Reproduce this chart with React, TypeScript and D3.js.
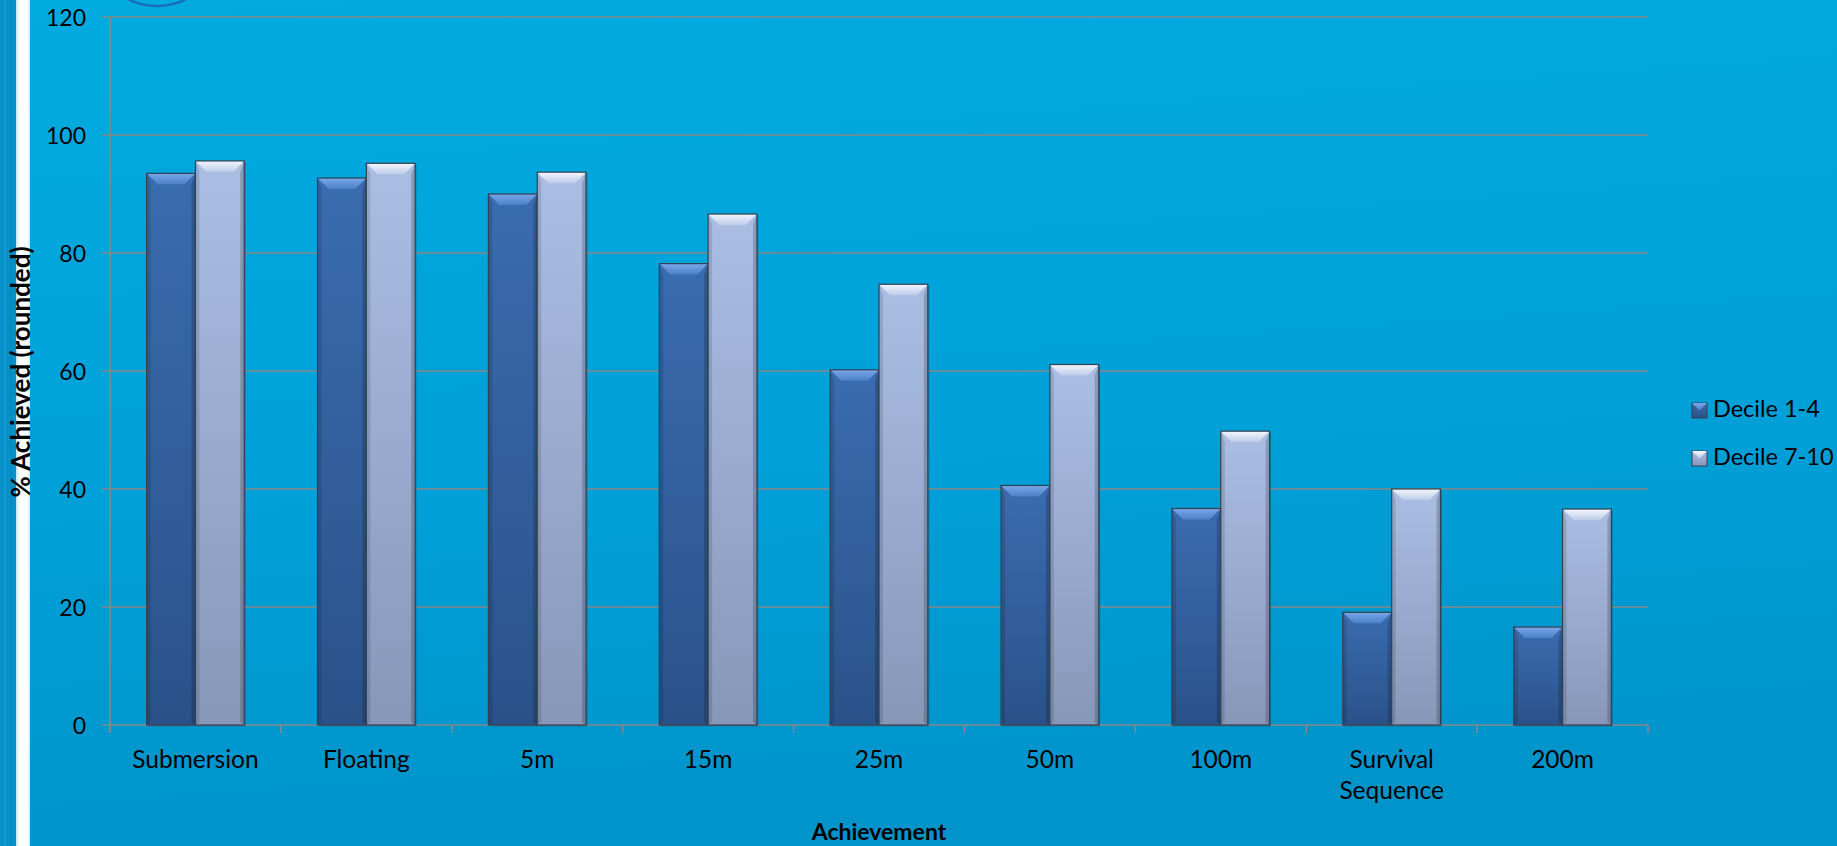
import React from "react";
import * as d3 from "d3";

const categories = ["Submersion", "Floating", "5m", "15m", "25m", "50m", "100m", "Survival Sequence", "200m"];
const seriesNames = ["Decile 1-4", "Decile 7-10"];
const decile14 = [93.5, 92.7, 90.0, 78.2, 60.2, 40.6, 36.7, 19.1, 16.6];
const decile710 = [95.6, 95.2, 93.7, 86.6, 74.7, 61.1, 49.8, 40.0, 36.6];
const yTicks = [0, 20, 40, 60, 80, 100, 120];
const yTitle = "% Achieved (rounded)";
const xTitle = "Achievement";

const W = 1837;
const H = 846;
const FONT = "Lato, 'Open Sans', sans-serif";

export default function App() {
  const x0 = 110, x1 = 1648, yTop = 17, yBase = 725;
  const x = d3.scaleBand<string>().domain(categories).range([x0, x1]).paddingInner(0).paddingOuter(0);
  const xs = d3.scaleBand<string>().domain(seriesNames).range([0, x.bandwidth()]).paddingInner(0).paddingOuter(0.75);
  const y = d3.scaleLinear().domain([0, 120]).range([yBase, yTop]);
  const seriesData = [decile14, decile710];
  const bodyGrad = ["gDark", "gLight"];
  const topGrad = ["gDarkTop", "gLightTop"];
  const bev = 11;

  const bars: React.ReactNode[] = [];
  categories.forEach((c, i) => {
    seriesNames.forEach((s, si) => {
      const v = seriesData[si][i];
      const bx = (x(c) as number) + (xs(s) as number);
      const bw = xs.bandwidth();
      const by = y(v);
      const bh = yBase - by;
      const b = Math.min(bev, bh / 2);
      bars.push(
        <g key={c + s}>
          <rect x={bx + 1.5} y={by + 1.5} width={bw} height={bh} fill="#000" opacity={0.18} />
          <rect x={bx} y={by} width={bw} height={bh} fill={`url(#${bodyGrad[si]})`} />
          <polygon
            points={`${bx},${by} ${bx + 4},${by + b} ${bx + 4},${yBase - 3} ${bx},${yBase}`}
            fill="#000" opacity={0.12}
          />
          <polygon
            points={`${bx + bw},${by} ${bx + bw - 4},${by + b} ${bx + bw - 4},${yBase - 3} ${bx + bw},${yBase}`}
            fill="#000" opacity={0.18}
          />
          <polygon
            points={`${bx},${by} ${bx + bw},${by} ${bx + bw - b},${by + b} ${bx + b},${by + b}`}
            fill={`url(#${topGrad[si]})`}
          />
          <rect x={bx} y={by} width={bw} height={bh} fill="none" stroke="#34404f" strokeWidth={1.2} />
        </g>
      );
    });
  });

  return (
    <svg width={W} height={H} style={{ position: "absolute", left: 0, top: 0, display: "block" }} fontFamily={FONT}>
      <defs>
        <linearGradient id="bg" x1="0" y1="0" x2="0.15" y2="1">
          <stop offset="0" stopColor="#00abe0" />
          <stop offset="0.6" stopColor="#00a0d8" />
          <stop offset="1" stopColor="#0094cb" />
        </linearGradient>
        <linearGradient id="gDark" x1="0" y1="0" x2="0" y2="1">
          <stop offset="0" stopColor="#3a6cb0" />
          <stop offset="1" stopColor="#2a5289" />
        </linearGradient>
        <linearGradient id="gLight" x1="0" y1="0" x2="0" y2="1">
          <stop offset="0" stopColor="#aabee4" />
          <stop offset="1" stopColor="#8797b8" />
        </linearGradient>
        <linearGradient id="gDarkTop" x1="0" y1="0" x2="0" y2="1">
          <stop offset="0" stopColor="#7aa8ea" />
          <stop offset="1" stopColor="#4c80c8" />
        </linearGradient>
        <linearGradient id="gLightTop" x1="0" y1="0" x2="0" y2="1">
          <stop offset="0" stopColor="#f4f7fd" />
          <stop offset="1" stopColor="#bccbe9" />
        </linearGradient>
        <linearGradient id="stripe" x1="0" y1="0" x2="1" y2="0">
          <stop offset="0" stopColor="#bfe6f7" />
          <stop offset="0.25" stopColor="#ffffff" />
          <stop offset="0.8" stopColor="#ffffff" />
          <stop offset="1" stopColor="#cdeaf7" />
        </linearGradient>
      </defs>
      <rect x={0} y={0} width={W} height={H} fill="url(#bg)" />
      {/* left edge decoration */}
      <rect x={0} y={0} width={16} height={H} fill="#0890c8" />
      <rect x={4} y={0} width={2} height={H} fill="#1aa3da" opacity={0.6} />
      <rect x={10} y={0} width={2} height={H} fill="#0a86bd" opacity={0.6} />
      <rect x={16} y={0} width={14} height={H} fill="url(#stripe)" />
      {/* partial logo ring at top */}
      <ellipse cx={157} cy={-42} rx={56} ry={48} fill="none" stroke="#1a6cc0" strokeWidth={2.5} />

      {/* gridlines */}
      {yTicks.map((t) => (
        <line key={t} x1={x0 - 8} x2={x1} y1={y(t)} y2={y(t)} stroke="#878787" strokeWidth={1.6} />
      ))}
      <line x1={x0} x2={x0} y1={yTop} y2={yBase + 8} stroke="#878787" strokeWidth={1.6} />
      {categories.map((c) => (
        <line key={c} x1={x(c) as number} x2={x(c) as number} y1={yBase} y2={yBase + 8} stroke="#878787" strokeWidth={1.6} />
      ))}
      <line x1={x1} x2={x1} y1={yBase} y2={yBase + 8} stroke="#878787" strokeWidth={1.6} />

      {bars}

      {/* y tick labels */}
      {yTicks.map((t) => (
        <text key={t} x={86} y={y(t)} textAnchor="end" dominantBaseline="central" fontSize={23} fill="#000">
          {t}
        </text>
      ))}

      {/* x tick labels */}
      {categories.map((c) => {
        const cx = (x(c) as number) + x.bandwidth() / 2;
        const lines = c.split(" ");
        return (
          <text key={c} x={cx} y={768} textAnchor="middle" fontSize={24.5} fill="#000">
            {lines.map((l, li) => (
              <tspan key={li} x={cx} dy={li === 0 ? 0 : 31}>
                {l}
              </tspan>
            ))}
          </text>
        );
      })}

      {/* axis titles */}
      <text x={(x0 + x1) / 2} y={840} textAnchor="middle" fontSize={23} fontWeight="bold" fill="#000">
        {xTitle}
      </text>
      <text
        transform={`translate(30, 372) rotate(-90)`}
        textAnchor="middle"
        fontSize={26}
        fontWeight="bold"
        fill="#000"
      >
        {yTitle}
      </text>

      {/* legend */}
      {seriesNames.map((s, si) => {
        const ly = 403 + si * 48;
        return (
          <g key={s}>
            <rect x={1692} y={ly} width={15} height={15} fill={`url(#${bodyGrad[si]})`} stroke="#34404f" strokeWidth={1} />
            <polygon
              points={`${1692},${ly} ${1707},${ly} ${1699.5},${ly + 7.5}`}
              fill={`url(#${topGrad[si]})`}
            />
            <text x={1713} y={ly + 14} fontSize={23.5} fill="#000">
              {s}
            </text>
          </g>
        );
      })}
    </svg>
  );
}
